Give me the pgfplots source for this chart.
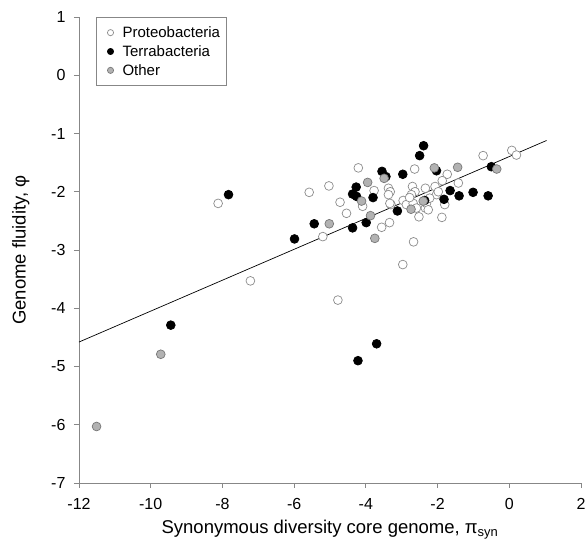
\documentclass[border=0pt]{standalone}
\usepackage{fontspec}
\setmainfont{Liberation Sans}
\usepackage{pgfplots}
\pgfplotsset{compat=1.18}
\definecolor{axgray}{RGB}{135,135,135}
\definecolor{opengray}{RGB}{140,140,140}
\definecolor{othergray}{RGB}{178,178,178}
\definecolor{otheredge}{RGB}{120,120,120}
\begin{document}
\begin{tikzpicture}
\useasboundingbox (-79pt,-65pt) rectangle (508pt,483pt);
\begin{axis}[
 scale only axis, width=502pt, height=466pt,
 xmin=-12,xmax=2,ymin=-7,ymax=1,
 xtick={-12,-10,...,2}, ytick={-7,-6,...,1},
 axis x line*=bottom, axis y line*=left,
 axis line style={-, axgray, line width=0.9pt},
 tick style={axgray, line width=0.9pt},
 tick align=outside, major tick length=5pt,
 /pgf/number format/assume math mode=true,
 ticklabel style={font=\fontsize{16}{18}\selectfont},
 xticklabel style={yshift=-7pt},
 yticklabel style={xshift=-5pt},
 xlabel={Synonymous diversity core genome, π\textsubscript{syn}},
 ylabel={Genome fluidity, φ},
 label style={font=\fontsize{18.5}{21}\selectfont},
 xlabel style={at={(axis description cs:0.5,0)}, anchor=north, yshift=-34pt},
 ylabel style={at={(axis description cs:-0.0916,0.5)}, anchor=south},
 legend style={at={(0.034,1)}, anchor=north west, draw=axgray, line width=0.9pt,
   font=\fontsize{15}{17}\selectfont, legend cell align=left,
   row sep=2.5pt, inner xsep=4pt, inner ysep=7pt},
 legend image code/.code={\path[draw=none,fill=none] (-1pt,0pt) -- (19pt,0pt); \draw[mark size=3.1pt, line width=0.7pt] plot coordinates {(9pt,0cm)};},
]
\addplot[only marks, mark=*, mark size=4.4pt, mark options={draw=opengray, fill=white, line width=0.7pt}] coordinates {
(-8.12,-2.20) (-7.22,-3.53) (-4.78,-3.86) (-5.58,-2.01) (-5.03,-1.90) (-5.20,-2.77)
(-4.21,-1.59) (-2.64,-1.61) (-3.77,-1.98) (-3.37,-1.94) (-3.32,-2.00) (-3.37,-2.05)
(-2.70,-1.91) (-2.63,-2.00) (-2.73,-2.05) (-2.34,-1.94) (-2.07,-1.91) (-2.03,-2.05)
(-1.98,-2.00) (-4.72,-2.18) (-4.54,-2.37) (-4.09,-2.25) (-3.30,-2.22) (-2.96,-2.15)
(-2.87,-2.22) (-2.68,-2.20) (-2.59,-2.28) (-2.34,-2.28) (-2.31,-2.20) (-2.26,-2.31)
(-2.52,-2.43) (-3.34,-2.53) (-3.56,-2.61) (-2.67,-2.86) (-2.97,-3.25) (-0.73,-1.38)
(0.07,-1.29) (0.20,-1.37) (-1.73,-1.70) (-1.87,-1.81) (-1.42,-1.85) (-1.80,-2.22)
(-1.88,-2.44) (-2.22,-2.11) (-3.33,-2.20) (-2.78,-2.10)
};
\addlegendentry{Proteobacteria}
\addplot[only marks, mark=*, mark size=4.4pt, mark options={draw=black, fill=black, line width=0.7pt}] coordinates {
(-9.44,-4.29) (-7.83,-2.05) (-5.99,-2.81) (-5.44,-2.55) (-4.22,-4.90) (-3.70,-4.61)
(-4.37,-2.62) (-3.99,-2.53) (-4.37,-2.04) (-4.26,-2.08) (-4.27,-1.92) (-3.80,-2.10)
(-3.55,-1.65) (-3.44,-1.74) (-2.97,-1.70) (-2.39,-1.21) (-2.50,-1.38) (-2.03,-1.64)
(-3.12,-2.33) (-2.36,-2.15) (-1.65,-1.98) (-1.40,-2.07) (-1.01,-2.01) (-0.59,-2.07)
(-1.82,-2.13) (-0.50,-1.57)
};
\addlegendentry{Terrabacteria}
\addplot[only marks, mark=*, mark size=4.4pt, mark options={draw=otheredge, fill=othergray, line width=0.7pt}] coordinates {
(-11.51,-6.03) (-9.72,-4.79) (-5.02,-2.55) (-3.95,-1.84) (-3.49,-1.77) (-4.12,-2.16)
(-3.87,-2.41) (-3.75,-2.80) (-2.74,-2.30) (-2.40,-2.16) (-2.09,-1.59) (-1.44,-1.58)
(-0.35,-1.61)
};
\addlegendentry{Other}
\addplot[black, line width=0.7pt, no markers, forget plot] coordinates {(-12,-4.58) (1.04,-1.12)};
\end{axis}
\end{tikzpicture}
\end{document}
